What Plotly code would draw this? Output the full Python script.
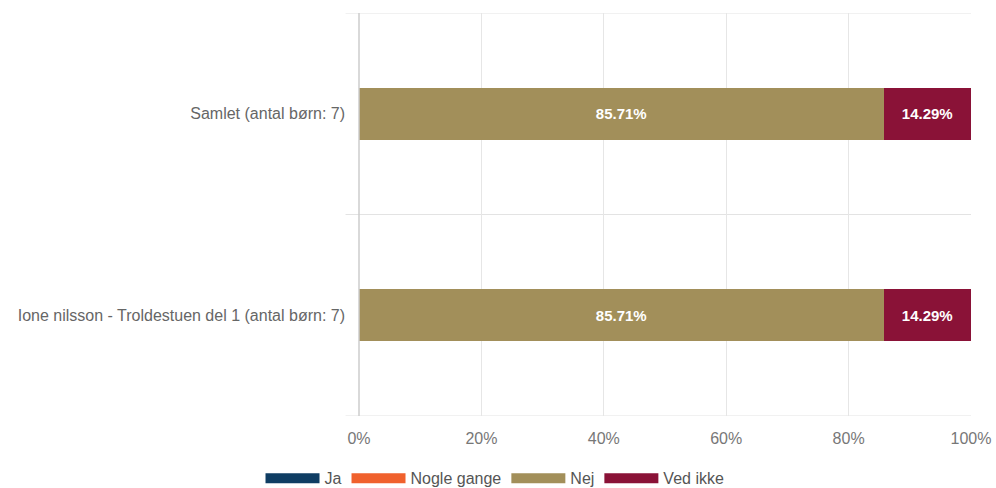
import plotly.graph_objects as go

categories = ["Samlet (antal børn: 7)", "Ione nilsson - Troldestuen del 1 (antal børn: 7)"]
series_names = ["Ja", "Nogle gange", "Nej", "Ved ikke"]
ja = [0, 0]
nogle_gange = [0, 0]
nej = [85.71, 85.71]
ved_ikke = [14.29, 14.29]
colors = ["#0f3d63", "#f0612d", "#a28f5a", "#8a1237"]
x_ticks = [0, 20, 40, 60, 80, 100]
x_tick_labels = ["0%", "20%", "40%", "60%", "80%", "100%"]

values = [ja, nogle_gange, nej, ved_ikke]

fig = go.Figure()
for name, vals, col in zip(series_names, values, colors):
    fig.add_trace(go.Bar(
        y=categories, x=vals, name=name, orientation="h",
        marker=dict(color=col, line=dict(width=0)),
        width=0.26, showlegend=False, legendgroup=name,
        text=[f"{v:.2f}%" if v > 0 else "" for v in vals],
        textposition="inside", insidetextanchor="middle",
        textfont=dict(family="Liberation Sans, Arial", size=15, color="white", weight="bold"),
        hoverinfo="x+name",
    ))
# legend entries (wide colour swatches)
for name, col in zip(series_names, colors):
    fig.add_trace(go.Scatter(
        x=[None], y=[None], mode="lines", name=name, legendgroup=name,
        line=dict(color=col, width=16), hoverinfo="skip",
    ))

shapes = []
for yb in [-0.5, 0.5, 1.5]:
    shapes.append(dict(type="line", xref="paper", yref="y", x0=-0.022, x1=1, y0=yb, y1=yb,
                       line=dict(color="#e3e3e3", width=1), layer="below"))
shapes.append(dict(type="line", xref="paper", yref="paper", x0=0, x1=0, y0=0, y1=1,
                   line=dict(color="#cccccc", width=1.5), layer="above"))

fig.update_layout(
    barmode="stack",
    width=996, height=488,
    margin=dict(l=359, r=25, t=13, b=72, autoexpand=False),
    paper_bgcolor="white", plot_bgcolor="white",
    font=dict(family="Liberation Sans, Arial", size=16, color="#666666"),
    shapes=shapes,
    showlegend=True,
    legend=dict(orientation="h", xref="container", yref="container", x=0.497, y=0.02,
                xanchor="center", yanchor="middle", itemwidth=54,
                font=dict(size=16, color="#555555"), traceorder="normal",
                itemclick=False, itemdoubleclick=False),
    xaxis=dict(range=[0, 100], tickvals=x_ticks, ticktext=x_tick_labels,
               showgrid=True, gridcolor="#e6e6e6", gridwidth=1, zeroline=False,
               showline=False, ticks="", ticklabelstandoff=11, ticklabeloverflow="allow",
               tickfont=dict(size=16, color="#777777"), fixedrange=True),
    yaxis=dict(type="category", categoryorder="array", categoryarray=categories,
               autorange=False, range=[1.5, -0.5],
               showgrid=False, zeroline=False, showline=False, ticks="",
               ticklabelstandoff=13,
               tickfont=dict(size=16, color="#666666"), fixedrange=True),
)

fig.write_html("out.html", config={"displayModeBar": False},
               post_script="document.body.style.margin='0';document.body.style.overflow='hidden';")
